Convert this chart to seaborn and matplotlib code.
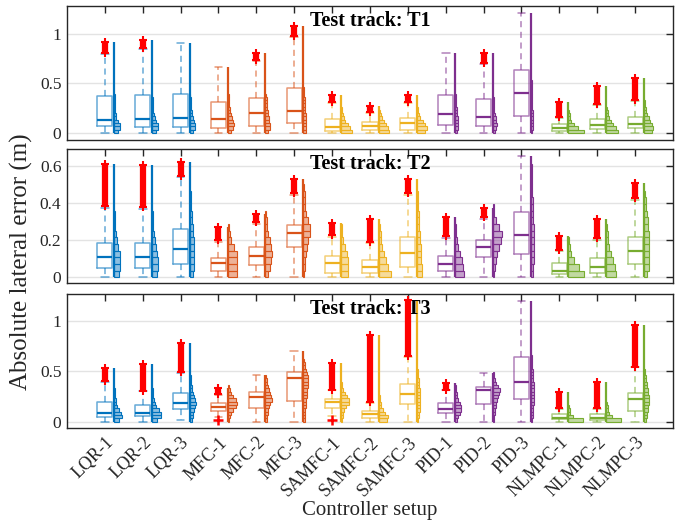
import numpy as np
import pandas as pd
import matplotlib
matplotlib.use("Agg")
import matplotlib.pyplot as plt
from matplotlib.colors import to_rgba
import seaborn as sns

# ---------------------------------------------------------------- data
controllers = ["LQR-1", "LQR-2", "LQR-3", "MFC-1", "MFC-2", "MFC-3",
               "SAMFC-1", "SAMFC-2", "SAMFC-3", "PID-1", "PID-2", "PID-3",
               "NLMPC-1", "NLMPC-2", "NLMPC-3"]
family_colors = {"LQR": "#0072BD", "MFC": "#D95319", "SAMFC": "#EDB120",
                 "PID": "#7E2F8E", "NLMPC": "#77AC30"}
tracks = ["T1", "T2", "T3"]
nan = np.nan

# Track T1 box statistics (m)
t1_wlo = [0, 0, 0, 0, 0, 0, 0, 0, 0, 0, 0, 0, 0, 0, 0]
t1_q1 = [.067, .054, .054, .047, .070, .094, .020, .027, .027, .077, .067, .171, .017, .034, .044]
t1_med = [.128, .138, .154, .138, .195, .221, .060, .067, .094, .188, .161, .403, .044, .074, .084]
t1_q3 = [.369, .379, .396, .312, .346, .450, .144, .110, .154, .379, .336, .638, .084, .144, .161]
t1_whi = [.79, .84, .91, .664, .72, .97, .30, .20, .30, .805, .69, 1.21, .15, .28, .32]
t1_out_lo = [.80, .85, nan, nan, .73, .98, .31, .21, .31, nan, .70, nan, .16, .295, .33]
t1_out_hi = [.92, .94, nan, nan, .80, 1.08, .38, .27, .385, nan, .80, nan, .31, .47, .554]
t1_low_out = [nan] * 15
t1_bin = 0.033
t1_hist = [
    [4.5, 6.5, 6.5, 4.5, 2.5, 1.8, 1.5, 1.2, 1.0, 1.0, 0.8, 0.8],
    [4.5, 6.5, 6.0, 4.5, 3.0, 2.0, 1.5, 1.2, 1.0, 1.0, 0.8],
    [3.5, 5.0, 5.0, 4.0, 3.0, 2.2, 2.0, 1.5, 1.2, 1.0, 1.0, 0.8],
    [3.0, 5.0, 6.5, 5.0, 4.0, 3.0, 2.5, 2.0, 1.5, 1.2, 1.0, 1.0],
    [3.0, 4.5, 4.5, 4.0, 3.5, 3.0, 2.5, 2.0, 1.8, 1.5, 1.2, 1.0],
    [2.5, 3.0, 3.0, 2.8, 2.5, 2.3, 2.0, 1.8, 1.6, 1.4, 1.2, 1.1, 1.0, 1.0],
    [11, 9.0, 6.5, 4.0, 2.5, 1.5, 1.0, 0.8],
    [10, 9.0, 7.0, 5.0, 3.0, 1.5, 1.0],
    [8.5, 10, 8.0, 6.0, 3.5, 2.0, 1.2, 1.0],
    [2.0, 3.0, 3.5, 3.5, 3.0, 2.5, 2.0, 1.8, 1.5, 1.2, 1.0, 1.0],
    [2.5, 3.5, 4.0, 3.5, 3.0, 2.2, 1.8, 1.5, 1.2, 1.0, 1.0],
    [1.5, 2.0, 2.0, 2.0, 2.0, 2.0, 2.0, 1.8, 1.8, 1.6, 1.5, 1.3, 1.2, 1.1, 1.0, 1.0],
    [16, 10, 5.5, 3.0, 2.0, 1.2, 1.0],
    [12, 9.5, 7.0, 4.5, 3.0, 2.0, 1.3, 1.0],
    [8.0, 9.0, 8.0, 6.0, 4.5, 3.0, 2.2, 1.5, 1.2, 1.0],
]

# Track T2 box statistics (m)
t2_wlo = [0, 0, 0, 0, 0, 0, 0, 0, 0, 0, 0, 0, 0, 0, 0]
t2_q1 = [.049, .052, .070, .036, .068, .166, .025, .022, .054, .036, .112, .126, .018, .025, .070]
t2_med = [.108, .108, .151, .076, .117, .241, .079, .058, .130, .072, .166, .229, .036, .054, .144]
t2_q3 = [.184, .187, .259, .105, .162, .281, .117, .094, .216, .115, .202, .351, .076, .106, .220]
t2_whi = [.375, .37, .54, .19, .29, .445, .22, .185, .445, .215, .315, .658, .14, .20, .42]
t2_out_lo = [.386, .38, .548, .20, .297, .454, .229, .193, .454, .223, .324, nan, .148, .211, .427]
t2_out_hi = [.613, .607, .625, .274, .342, .530, .295, .313, .530, .324, .373, nan, .223, .313, .512]
t2_low_out = [nan] * 15
t2_bin = 0.036
t2_hist = [
    [5.0, 6.5, 6.5, 6.0, 4.5, 3.0, 2.0, 1.5, 1.2, 1.0],
    [5.0, 6.5, 6.0, 5.5, 4.0, 3.0, 2.0, 1.5, 1.2, 1.0],
    [3.0, 4.0, 4.5, 4.5, 4.0, 4.0, 3.5, 3.0, 2.5, 2.0, 1.5, 1.2, 1.0],
    [9.0, 9.0, 9.0, 9.0, 6.5, 3.5, 2.0, 1.0],
    [3.0, 5.0, 6.0, 6.5, 6.0, 4.5, 3.0, 2.0, 1.5, 1.0],
    [1.0, 1.5, 2.0, 3.0, 4.0, 5.0, 6.5, 7.0, 5.0, 3.0, 2.0, 1.5, 1.2, 1.0],
    [7.0, 7.0, 7.0, 6.0, 4.0, 2.0, 1.3, 1.0],
    [11.5, 9.0, 7.0, 5.0, 3.0, 2.0, 1.5, 1.0],
    [5.5, 5.0, 4.5, 4.0, 4.0, 3.5, 3.0, 2.5, 2.0, 1.8, 1.5, 1.2, 1.0],
    [9.0, 8.0, 7.0, 5.0, 3.0, 2.0, 1.5, 1.0],
    [1.0, 2.0, 3.0, 4.0, 6.0, 8.0, 9.0, 6.0, 3.0, 1.5, 1.0],
    [2.0, 2.5, 3.0, 3.0, 3.0, 3.0, 3.0, 3.0, 2.5, 2.5, 2.0, 2.0, 1.5, 1.5, 1.2, 1.0, 1.0],
    [16, 11, 6.0, 3.0, 1.5, 1.0],
    [10, 9.0, 7.0, 5.0, 3.0, 2.0, 1.5, 1.0],
    [3.0, 4.5, 5.0, 5.0, 5.0, 5.0, 4.5, 4.0, 3.5, 2.5, 2.0, 1.5, 1.0],
]

# Track T3 box statistics (m)
t3_wlo = [0, 0, .017, .05, 0, 0, .06, 0, 0, 0, 0, 0, 0, 0, 0]
t3_q1 = [.043, .053, .129, .106, .132, .209, .132, .033, .172, .083, .175, .222, .023, .017, .109]
t3_med = [.086, .086, .185, .146, .248, .437, .192, .073, .272, .126, .315, .390, .040, .040, .222]
t3_q3 = [.192, .162, .281, .185, .291, .490, .222, .106, .371, .182, .348, .646, .073, .073, .288]
t3_whi = [.39, .30, .48, .26, .464, .70, .31, .19, .646, .31, .48, 1.20, .13, .125, .54]
t3_out_lo = [.40, .305, .49, .27, nan, nan, .315, .20, .65, .315, nan, nan, .139, .132, .546]
t3_out_hi = [.536, .573, .778, .338, nan, nan, .58, .86, 1.21, .38, nan, nan, .298, .397, .96]
t3_low_out = [nan, nan, nan, .012, nan, nan, .017, nan, nan, nan, nan, nan, nan, nan, nan]
t3_bin = 0.033
t3_hist = [
    [5.0, 8.0, 7.0, 5.0, 3.5, 2.5, 2.0, 1.5, 1.2, 1.0],
    [5.0, 9.0, 9.0, 7.0, 4.5, 3.0, 2.0, 1.5, 1.2, 1.0],
    [2.0, 3.0, 3.5, 4.5, 5.5, 6.0, 5.0, 4.0, 3.0, 2.5, 2.0, 1.5, 1.2, 1.0],
    [1.5, 2.0, 3.0, 5.0, 8.0, 9.0, 8.0, 5.0, 3.0, 2.0, 1.2],
    [1.5, 2.0, 2.5, 3.0, 4.0, 5.0, 6.5, 6.0, 5.0, 4.0, 3.0, 2.0, 1.5, 1.0],
    [1.5, 1.5, 2.0, 2.0, 2.5, 3.0, 3.0, 3.5, 3.5, 4.0, 4.5, 5.0, 5.0, 4.5, 3.5, 2.5, 2.0, 1.5, 1.0],
    [1.0, 1.5, 2.0, 3.0, 5.0, 7.5, 8.0, 6.0, 3.5, 2.0, 1.3, 1.0],
    [8.0, 9.0, 6.0, 3.5, 2.0, 1.5, 1.2, 1.0],
    [1.5, 2.0, 2.5, 3.0, 3.0, 3.5, 3.5, 3.5, 3.0, 3.0, 2.5, 2.0, 1.8, 1.5, 1.2, 1.0],
    [2.0, 3.5, 5.0, 6.5, 6.0, 5.0, 3.5, 2.5, 1.8, 1.3, 1.0],
    [1.0, 1.5, 2.0, 2.5, 3.0, 3.5, 4.0, 5.0, 6.0, 7.0, 5.5, 3.5, 2.0, 1.3, 1.0],
    [1.5, 2.0, 2.0, 2.5, 2.5, 3.0, 3.0, 3.0, 3.0, 3.5, 3.0, 3.0, 2.5, 2.5, 2.0, 2.0, 1.5, 1.5, 1.2, 1.0],
    [15, 5.0, 2.0, 1.3, 1.0],
    [15, 6.0, 3.0, 1.8, 1.2, 1.0],
    [2.0, 2.5, 3.0, 3.5, 4.0, 4.5, 4.5, 4.5, 4.0, 3.5, 3.0, 2.5, 2.0, 1.5, 1.2, 1.0],
]

panels = [
    dict(name="T1", wlo=t1_wlo, q1=t1_q1, med=t1_med, q3=t1_q3, whi=t1_whi,
         out_lo=t1_out_lo, out_hi=t1_out_hi, low_out=t1_low_out, bin=t1_bin, hist=t1_hist,
         ylim=(-0.073, 1.278), yticks=[0, 0.5, 1], yticklabels=["0", "0.5", "1"]),
    dict(name="T2", wlo=t2_wlo, q1=t2_q1, med=t2_med, q3=t2_q3, whi=t2_whi,
         out_lo=t2_out_lo, out_hi=t2_out_hi, low_out=t2_low_out, bin=t2_bin, hist=t2_hist,
         ylim=(-0.032, 0.692), yticks=[0, 0.2, 0.4, 0.6], yticklabels=["0", "0.2", "0.4", "0.6"]),
    dict(name="T3", wlo=t3_wlo, q1=t3_q1, med=t3_med, q3=t3_q3, whi=t3_whi,
         out_lo=t3_out_lo, out_hi=t3_out_hi, low_out=t3_low_out, bin=t3_bin, hist=t3_hist,
         ylim=(-0.066, 1.265), yticks=[0, 0.5, 1], yticklabels=["0", "0.5", "1"]),
]

# ---------------------------------------------------------------- style
sns.set_theme(style="white")
plt.rcParams["font.family"] = ["Liberation Serif", "DejaVu Serif"]

colors = [family_colors[c.split("-")[0]] for c in controllers]
palette = dict(zip(controllers, colors))

BOX_W = 0.4        # box width in category units
HIST_OFF = 0.24    # distance from box centre to histogram baseline
HIST_SCALE = 1 / 38.0  # category units per histogram count unit

fig = plt.figure(figsize=(6.94, 5.28), dpi=100)
left, width, height = 0.0965, 0.8732, 0.2538
bottoms = [0.7348, 0.4634, 0.1888]

for p, bottom in zip(panels, bottoms):
    ax = fig.add_axes([left, bottom, width, height])
    # five summary numbers per controller -> boxplot reproduces them exactly
    rows = []
    for i, c in enumerate(controllers):
        for v in (p["wlo"][i], p["q1"][i], p["med"][i], p["q3"][i], p["whi"][i]):
            rows.append((c, v))
    df = pd.DataFrame(rows, columns=["controller", "value"])

    # half histograms to the right of each box
    for i, c in enumerate(controllers):
        col = colors[i]
        counts = np.asarray(p["hist"][i])
        edges = np.arange(len(counts)) * p["bin"]
        top = np.nanmax([p["whi"][i], p["out_hi"][i]])
        ax.plot([i + HIST_OFF, i + HIST_OFF], [0, top], color=col, lw=1.6,
                solid_capstyle="butt", zorder=2)
        ax.barh(edges + p["bin"] / 2, counts * HIST_SCALE, height=p["bin"],
                left=i + HIST_OFF, facecolor=to_rgba(col, 0.45), edgecolor=col,
                linewidth=0.8, zorder=2)

    sns.boxplot(data=df, x="controller", y="value", hue="controller",
                order=controllers, hue_order=controllers, palette=palette,
                fill=False, width=BOX_W, whis=np.inf, showfliers=False,
                legend=False, linewidth=1.1, ax=ax,
                boxprops=dict(alpha=0.6),
                whiskerprops=dict(linestyle=(0, (4, 3)), alpha=0.6),
                capprops=dict(alpha=0.6),
                medianprops=dict(linewidth=1.6))

    # outliers
    for i in range(len(controllers)):
        lo, hi = p["out_lo"][i], p["out_hi"][i]
        if not np.isnan(lo):
            ax.vlines(i, lo, hi, color="#FF0000", lw=4.5, zorder=4)
            ax.plot([i, i], [lo, hi], "+", color="#FF0000", ms=5.5, mew=1.5, zorder=4)
        lv = p["low_out"][i]
        if not np.isnan(lv):
            ax.plot([i], [lv], "+", color="#FF0000", ms=6.5, mew=1.8, zorder=4)

    ax.set_xlim(-1, 15)
    ax.set_ylim(*p["ylim"])
    ax.set_yticks(p["yticks"])
    ax.set_yticklabels(p["yticklabels"])
    ax.set_xticks(range(len(controllers)))
    ax.set_xlabel("")
    ax.set_ylabel("")
    ax.yaxis.grid(True, color="#e3e3e3", lw=1.0)
    ax.set_axisbelow(True)
    ax.tick_params(direction="in", top=True, right=True, length=5, width=1.0,
                   colors="#262626", labelsize=12.5, pad=4)
    for s in ax.spines.values():
        s.set_color("#262626")
        s.set_linewidth(1.0)
    ax.text(0.5, 0.962, f"Test track: {p['name']}", transform=ax.transAxes,
            ha="center", va="top", fontsize=14.5, fontweight="bold", color="black")
    if p["name"] != "T3":
        ax.set_xticklabels([])
    else:
        ax.set_xticklabels(controllers, rotation=45, ha="right",
                           rotation_mode="anchor", fontsize=13, color="#262626")

fig.text(370 / 694, 1 - 510 / 528, "Controller setup", ha="center", va="center",
         fontsize=15, color="#262626")
fig.text(21 / 694, 1 - 262 / 528, "Absolute lateral error (m)", ha="center",
         va="center", rotation=90, fontsize=18, color="#262626")

fig.savefig("out.png", dpi=100)
